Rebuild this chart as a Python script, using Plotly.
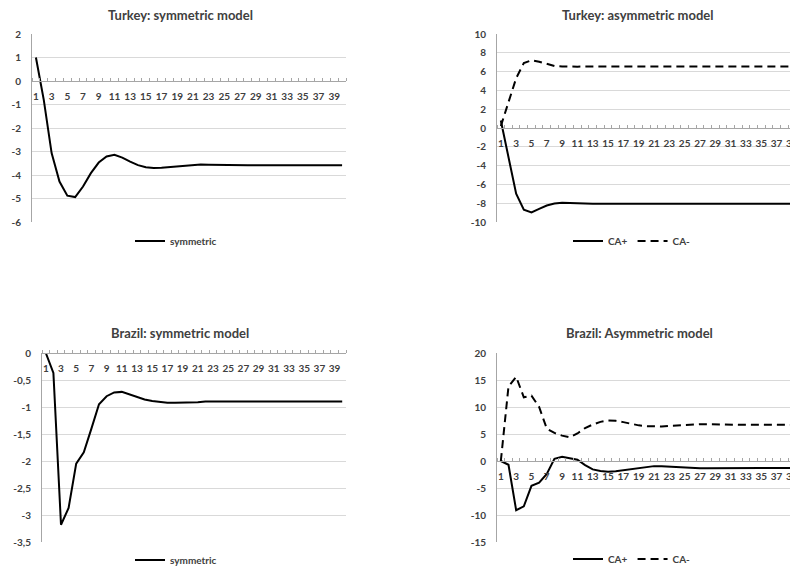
import plotly.graph_objects as go

# ---------------- data ----------------
periods = list(range(1, 41))
x_tick_vals = list(range(1, 41, 2))
x_tick_text = [str(v) for v in x_tick_vals]

turkey_sym = [1.0, -0.8, -3.07, -4.28, -4.88, -4.94, -4.49, -3.92, -3.47, -3.21,
              -3.14, -3.26, -3.43, -3.58, -3.67, -3.7, -3.69, -3.66, -3.62, -3.58,
              -3.56, -3.55, -3.56, -3.57, -3.58, -3.59, -3.59, -3.59, -3.58, -3.58,
              -3.58, -3.58, -3.58, -3.58, -3.58, -3.58, -3.58, -3.58, -3.58, -3.58]

turkey_ca_pos = [0.8, -3.2, -7.0, -8.7, -8.98, -8.6, -8.25, -8.04, -7.96, -7.98,
                 -8.03, -8.05, -8.05, -8.05, -8.05, -8.05, -8.05, -8.05, -8.05, -8.05,
                 -8.05, -8.05, -8.05, -8.05, -8.05, -8.05, -8.05, -8.05, -8.05, -8.05,
                 -8.05, -8.05, -8.05, -8.05, -8.05, -8.05, -8.05, -8.05, -8.05, -8.05]
turkey_ca_neg = [0.2, 2.8, 5.3, 6.9, 7.2, 7.05, 6.8, 6.6, 6.55, 6.5,
                 6.52, 6.55, 6.55, 6.55, 6.55, 6.55, 6.55, 6.55, 6.55, 6.55,
                 6.55, 6.55, 6.55, 6.55, 6.55, 6.55, 6.55, 6.55, 6.55, 6.55,
                 6.55, 6.55, 6.55, 6.55, 6.55, 6.55, 6.55, 6.55, 6.55, 6.55]

brazil_sym = [0.0, -0.37, -3.18, -2.87, -2.05, -1.84, -1.4, -0.95, -0.8, -0.73,
              -0.72, -0.77, -0.82, -0.86, -0.89, -0.91, -0.92, -0.92, -0.92, -0.91,
              -0.91, -0.9, -0.9, -0.9, -0.9, -0.9, -0.9, -0.9, -0.9, -0.9,
              -0.9, -0.9, -0.9, -0.9, -0.9, -0.9, -0.9, -0.9, -0.9, -0.9]

brazil_ca_pos = [0.0, -0.7, -9.1, -8.4, -4.6, -4.0, -2.4, 0.4, 0.8, 0.5,
                 0.25, -0.75, -1.55, -1.85, -2.0, -1.9, -1.7, -1.45, -1.25, -1.05,
                 -0.95, -0.95, -1.05, -1.15, -1.25, -1.3, -1.32, -1.32, -1.3, -1.3,
                 -1.3, -1.3, -1.3, -1.3, -1.3, -1.3, -1.3, -1.3, -1.3, -1.3]
brazil_ca_neg = [0.0, 13.8, 15.6, 11.8, 12.1, 10.0, 6.0, 5.2, 4.7, 4.4,
                 5.1, 6.1, 6.75, 7.25, 7.5, 7.45, 7.2, 6.9, 6.6, 6.45,
                 6.4, 6.4, 6.5, 6.6, 6.7, 6.75, 6.8, 6.8, 6.75, 6.7,
                 6.7, 6.7, 6.7, 6.7, 6.7, 6.7, 6.7, 6.7, 6.7, 6.7]

titles = ["Turkey: symmetric model", "Turkey: asymmetric model",
          "Brazil: symmetric model", "Brazil: Asymmetric model"]

y_ticks_tl = [2, 1, 0, -1, -2, -3, -4, -5, -6]
y_text_tl = ["2", "1", "0", "-1", "-2", "-3", "-4", "-5", "-6"]
y_ticks_tr = [10, 8, 6, 4, 2, 0, -2, -4, -6, -8, -10]
y_text_tr = ["10", "8", "6", "4", "2", "0", "-2", "-4", "-6", "-8", "-10"]
y_ticks_bl = [0, -0.5, -1, -1.5, -2, -2.5, -3, -3.5]
y_text_bl = ["0", "-0,5", "-1", "-1,5", "-2", "-2,5", "-3", "-3,5"]
y_ticks_br = [20, 15, 10, 5, 0, -5, -10, -15]
y_text_br = ["20", "15", "10", "5", "0", "-5", "-10", "-15"]

# ---------------- layout helpers ----------------
# The page body has an 8px margin, so the figure is drawn 8px smaller and
# reference pixel positions are shifted by that offset.
OFF = 8
W, H = 798 - OFF, 569 - OFF
FONT = "Lato, 'Open Sans', Arial, sans-serif"
TICKCOL = "#404040"
AXCOL = "#a6a6a6"
GRIDCOL = "#d9d9d9"


def px(x):
    return (x - OFF) / W


def py(y):
    return 1 - (y - OFF) / H


panels = [
    dict(x0=32, x1=346, yt=34, yb=222, yr=[-6, 2], xr=[0.5, 40.5], tv=y_ticks_tl, tt=y_text_tl,
         tx=180, ty=15, lx=176, ly=241),
    dict(x0=497, x1=798, yt=34, yb=222, yr=[-10, 10], xr=[0.5, 39.8], tv=y_ticks_tr, tt=y_text_tr,
         tx=638, ty=15, lx=632, ly=241),
    dict(x0=42, x1=346, yt=353, yb=542, yr=[-3.5, 0], xr=[0.5, 40.5], tv=y_ticks_bl, tt=y_text_bl,
         tx=180, ty=333, lx=176, ly=560),
    dict(x0=497, x1=798, yt=353, yb=542, yr=[-15, 20], xr=[0.5, 39.8], tv=y_ticks_br, tt=y_text_br,
         tx=639, ty=333, lx=632, ly=559),
]

fig = go.Figure()

line_style = dict(color="black", width=2)
dash_style = dict(color="black", width=2, dash="8px,5px")

series = [
    [("symmetric", turkey_sym, line_style)],
    [("CA+", turkey_ca_pos, line_style), ("CA-", turkey_ca_neg, dash_style)],
    [("symmetric", brazil_sym, line_style)],
    [("CA+", brazil_ca_pos, line_style), ("CA-", brazil_ca_neg, dash_style)],
]

minor_vals = [v + 0.5 for v in range(0, 41)]
layout = {}
annotations = []
for i, p in enumerate(panels):
    n = "" if i == 0 else str(i + 1)
    legname = "legend" if i == 0 else "legend" + str(i + 1)
    for name, vals, st in series[i]:
        fig.add_trace(go.Scatter(x=periods, y=vals, mode="lines", name=name, line=st,
                                 xaxis="x" + n, yaxis="y" + n, legend=legname,
                                 hoverinfo="skip"))
    yd0, yd1 = py(p["yb"]), py(p["yt"])
    ymin, ymax = p["yr"]
    zero_pos = yd0 + (0 - ymin) / (ymax - ymin) * (yd1 - yd0)
    layout["xaxis" + n] = dict(
        domain=[px(p["x0"]), min(1.0, px(p["x1"]))], range=p["xr"], anchor="free",
        position=zero_pos, showgrid=False, zeroline=False, showline=True,
        linecolor=AXCOL, linewidth=1, tickmode="array", tickvals=x_tick_vals,
        ticktext=x_tick_text, ticks="", ticklabelstandoff=6, automargin=False,
        ticklabeloverflow="allow",
        tickfont=dict(family=FONT, size=10, color=TICKCOL, weight="bold"),
        minor=dict(tickmode="array", tickvals=minor_vals, ticks="inside", ticklen=3,
                   tickcolor=AXCOL, tickwidth=1, showgrid=False),
        fixedrange=True,
    )
    layout["yaxis" + n] = dict(
        domain=[yd0, yd1], range=p["yr"], anchor="x" + n, showgrid=True,
        gridcolor=GRIDCOL, gridwidth=1, zeroline=False, showline=True, linecolor=AXCOL,
        linewidth=1, tickmode="array", tickvals=p["tv"], ticktext=p["tt"], ticks="",
        ticklabelstandoff=8, automargin=False,
        tickfont=dict(family=FONT, size=10, color=TICKCOL, weight="bold"),
        fixedrange=True,
    )
    layout[legname] = dict(
        orientation="h", x=px(p["lx"]), y=py(p["ly"]), xanchor="center", yanchor="middle",
        font=dict(family=FONT, size=10, color=TICKCOL, weight="bold"),
        bgcolor="rgba(0,0,0,0)", itemwidth=30, tracegroupgap=0,
    )
    annotations.append(dict(
        text=titles[i], x=px(p["tx"]), y=py(p["ty"]), xref="paper", yref="paper",
        xanchor="center", yanchor="middle", showarrow=False,
        font=dict(family=FONT, size=13, color="#404040", weight="bold"),
    ))

fig.update_layout(
    width=W, height=H, margin=dict(l=0, r=0, t=0, b=0, autoexpand=False),
    paper_bgcolor="white", plot_bgcolor="white",
    annotations=annotations, showlegend=True, **layout,
)

fig.write_html("out.html")
